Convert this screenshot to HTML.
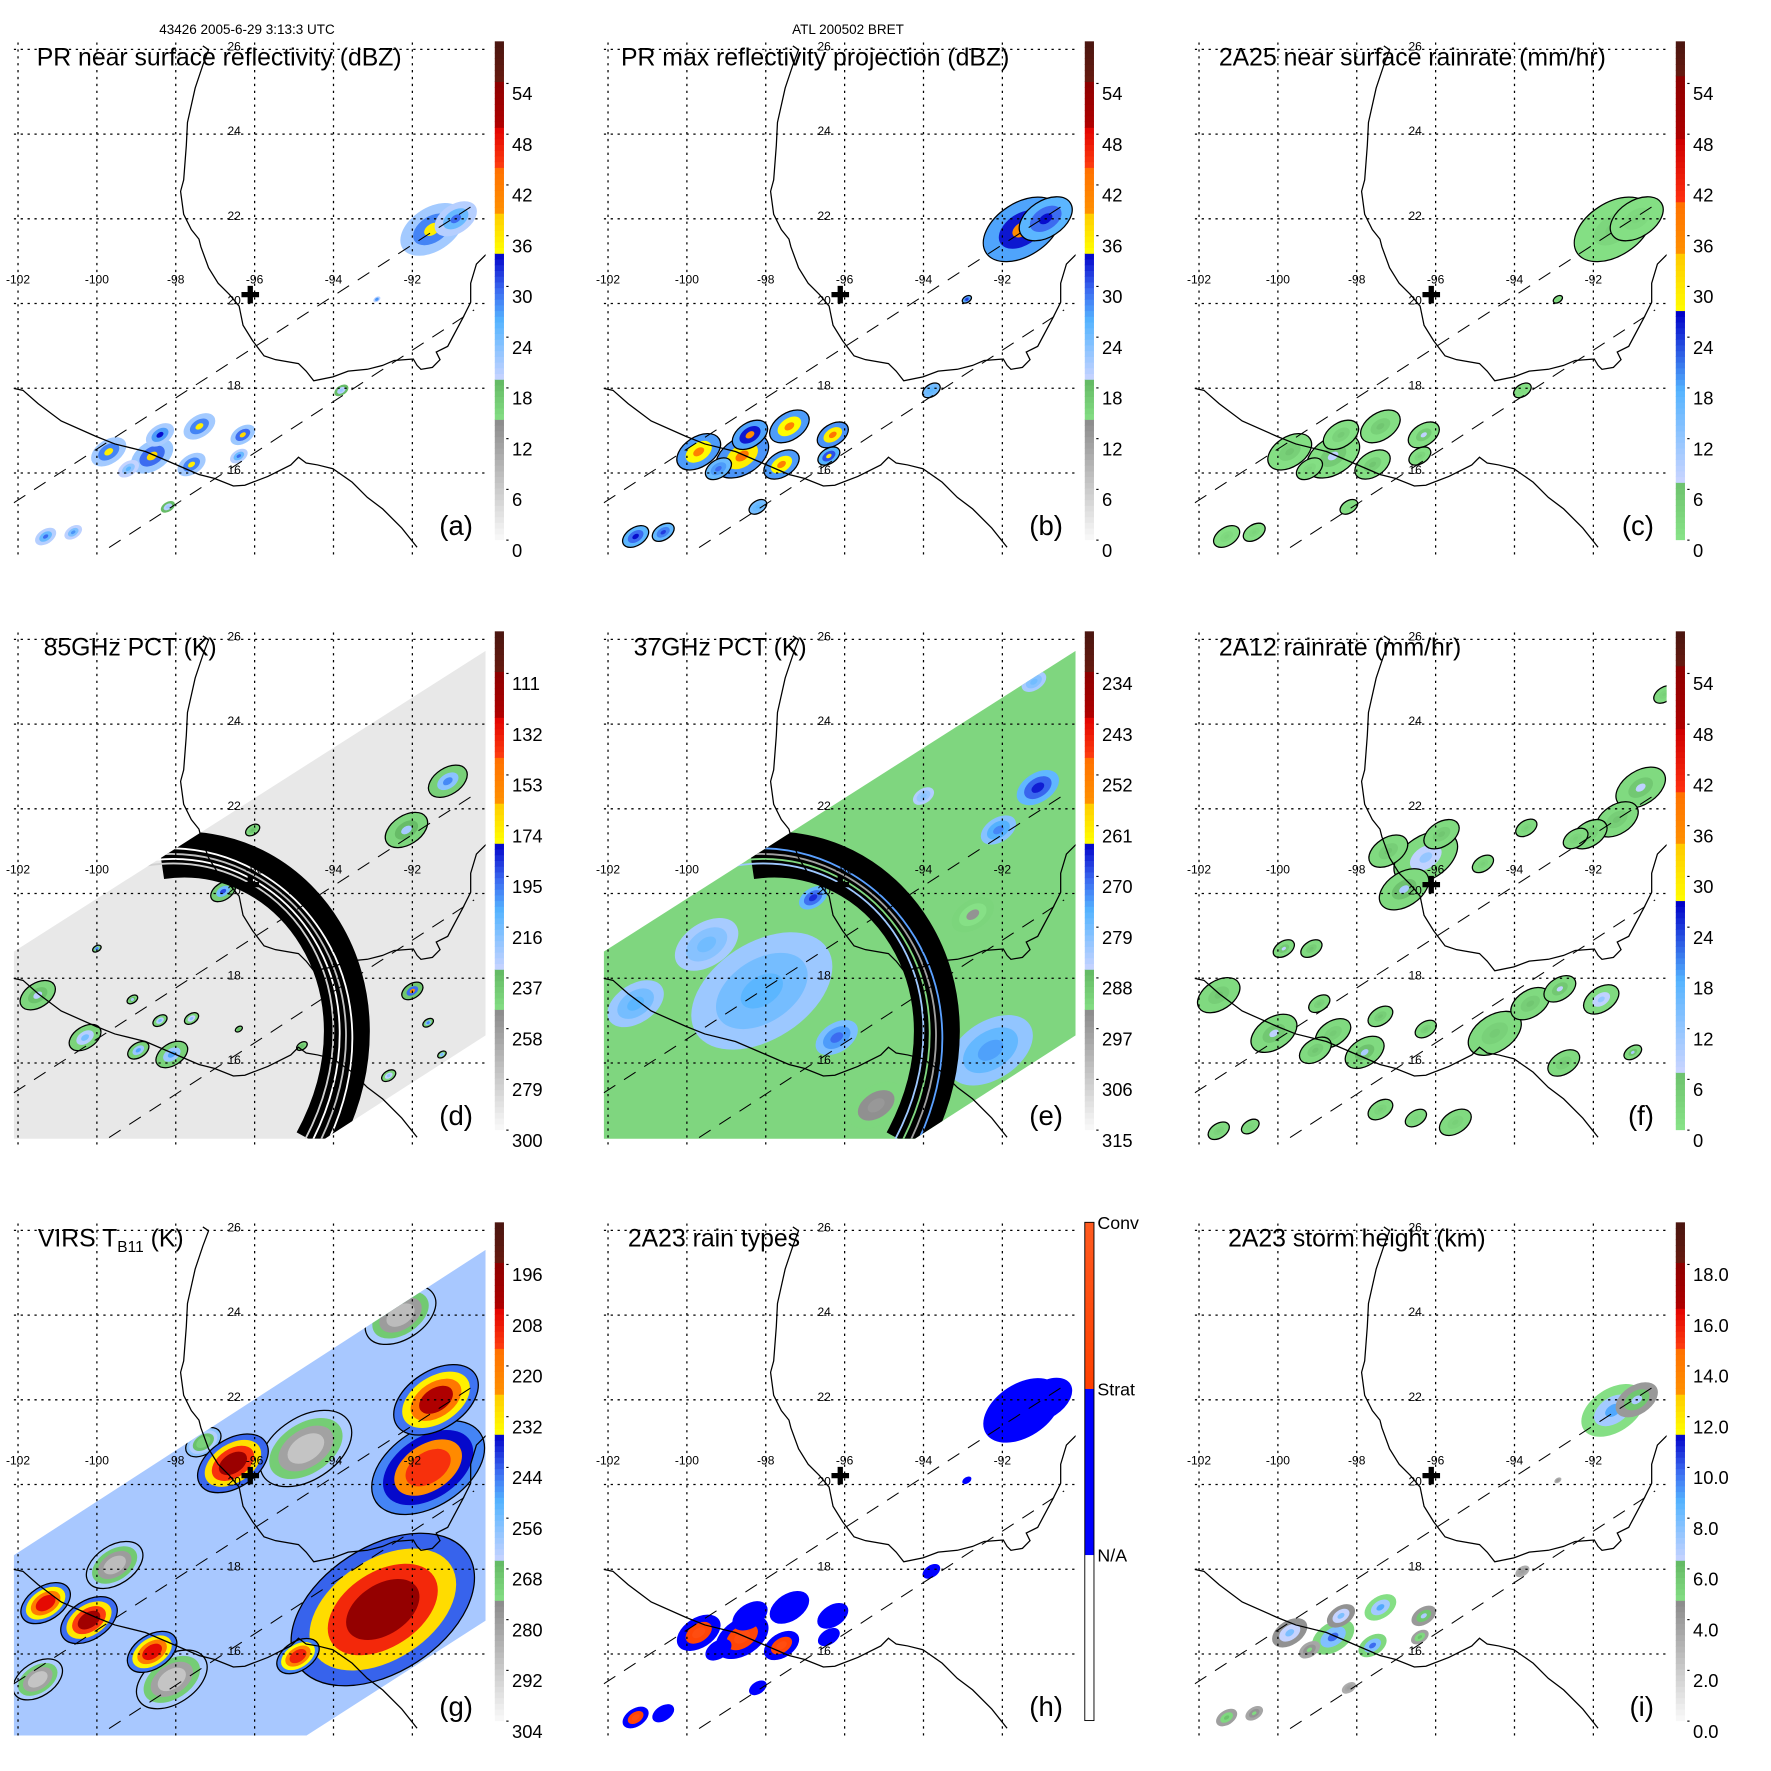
<!DOCTYPE html>
<html><head><meta charset="utf-8"><title>TRMM BRET 2005 panels</title>
<style>html,body{margin:0;padding:0;background:#fff}svg{display:block}</style></head>
<body>
<svg id="fig" xmlns="http://www.w3.org/2000/svg" width="1771" height="1771" viewBox="0 0 1771 1771" font-family="Liberation Sans, sans-serif"></svg>
<script>
// ---------- data (lon, lat, value, size in degrees) ----------
const aLon=[-91.5,-90.9,-99.7,-98.6,-98.4,-97.4,-97.6,-96.3,-96.4,-101.3,-100.6,-98.2,-93.8,-92.9,-99.2];
const aLat=[21.75,22.0,16.5,16.4,16.9,17.1,16.2,16.9,16.4,14.5,14.6,15.2,17.95,20.1,16.1];
const aVal=[36,30,36,38,34,36,36,38,30,30,28,22,22,28,26];
const aSize=[0.9,0.6,0.5,0.6,0.4,0.45,0.4,0.35,0.25,0.3,0.25,0.2,0.2,0.1,0.3];
const bVal=[40,34,42,44,40,42,42,44,36,34,32,26,26,32,30];
const bSize=[1.1,0.75,0.62,0.75,0.5,0.56,0.5,0.44,0.31,0.37,0.31,0.25,0.25,0.13,0.37];
const cVal=[4,3,6,8,5,6,6,8,4,3,3,2,2,3,3];
const hVal=[1.5,1.5,2.5,2.5,1.5,1.5,2.5,1.5,1.5,2.5,1.5,1.5,1.5,1.5,1.5];
const iVal=[9,7,8,10,8,9,10,7,6,6,5,4,4,4,5];
const dLon=[-91.1,-92.15,-96.05,-96.8,-92,-101.5,-100.3,-98.95,-98.1,-97.6,-98.4,-99.1,-100.0,-91.6,-91.25,-96.4,-94.8,-92.6];
const dLat=[22.65,21.5,21.5,20.05,17.7,17.6,16.6,16.3,16.2,17.05,17.0,17.5,18.7,16.95,16.2,16.8,16.4,15.7];
const dVal=[200,225,235,190,160,230,215,205,205,220,215,225,200,200,215,235,235,220];
const dSize=[0.55,0.6,0.2,0.35,0.3,0.5,0.45,0.3,0.45,0.2,0.2,0.15,0.12,0.15,0.12,0.1,0.15,0.2];
const eLon=[-98.1,-92.3,-101.3,-99.5,-95.2,-92.75,-91.1,-92.1,-96.8,-96.2,-94,-91.2];
const eLat=[17.7,16.3,17.4,18.8,15.0,19.5,22.5,21.5,19.9,16.6,22.3,25];
const eVal=[276,274,276,278,296,295,265,272,266,270,280,278];
const eSize=[2.0,1.2,0.8,0.9,0.8,0.6,0.6,0.5,0.4,0.6,0.3,0.35];
const fLon=[-90.8,-91.4,-92.1,-92.45,-90.2,-96.25,-96.8,-97.2,-95.85,-93.7,-94.8,-99.85,-99.15,-101.5,-100.1,-98.6,-99.05,-97.8,-97.4,-98.95,-96.25,-94.5,-93.6,-92.85,-91.8,-92.75,-91.0,-97.4,-96.5,-95.5,-101.5,-100.7];
const fLat=[22.5,21.75,21.4,21.3,24.7,20.85,20.1,21.0,21.4,21.55,20.7,18.7,18.7,17.6,16.7,16.7,16.3,16.25,17.1,17.4,16.8,16.7,17.4,17.75,17.5,16.0,16.25,14.9,14.7,14.6,14.4,14.5];
const fVal=[8,6,5,4,4,12,10,6,6,4,4,8,6,6,8,5,6,10,6,5,5,5,6,8,12,5,10,4,3,4,4,3];
const fSize=[0.7,0.6,0.5,0.35,0.3,0.9,0.7,0.55,0.5,0.3,0.3,0.3,0.3,0.6,0.65,0.5,0.45,0.55,0.35,0.3,0.3,0.75,0.55,0.45,0.5,0.45,0.25,0.35,0.3,0.45,0.3,0.25];
const gLon=[-94.7,-99.55,-98.1,-92.3,-101.5,-97.3,-92.75,-91.6,-91.4,-96.55,-101.3,-100.2,-98.6,-94.9];
const gLat=[20.85,18.1,15.4,24.0,15.4,21.0,17.05,20.4,22.0,20.5,17.2,16.8,16.05,15.95];
const gVal=[290,288,290,288,290,272,196,212,204,198,206,200,206,210];
const gSize=[1.3,0.8,1.0,1.0,0.7,0.5,2.6,1.6,1.2,1.0,0.7,0.8,0.7,0.6];
// colorbar tick labels
const ticksA=['0','6','12','18','24','30','36','42','48','54'];
const ticksD=['300','279','258','237','216','195','174','153','132','111'];
const ticksE=['315','306','297','288','279','270','261','252','243','234'];
const ticksG=['304','292','280','268','256','244','232','220','208','196'];
const ticksI=['0.0','2.0','4.0','6.0','8.0','10.0','12.0','14.0','16.0','18.0'];
const ticksH=['N/A','Strat','Conv'];
const lonTicks=[-102,-100,-98,-96,-94,-92];
const latTicks=[26,24,22,20,18,16];
// map geometry (local pixel outlines)
const gulfCoast=[530,120,545,130,530,170,510,230,490,320,487,380,480,470,472,500,480,560,500,600,520,625,525,645,545,700,570,740,600,770,625,800,635,850,660,890,690,930,720,940,780,950,800,970,820,995,870,985,910,970,960,965,1000,955,1030,942,1080,938,1090,955,1100,965,1130,960,1150,940,1140,920,1170,905,1210,830,1230,790,1230,740,1245,690,1270,665];
const pacCoast=[35,1015,60,1020,100,1055,160,1100,250,1140,300,1160,380,1180,450,1210,520,1240,560,1250,610,1270,640,1268,700,1245,760,1215,780,1195,800,1210,830,1215,870,1225,920,1260,960,1300,1000,1330,1050,1380,1090,1430];

const NS='http://www.w3.org/2000/svg';
const svg=document.getElementById('fig');
function el(tag,attrs,parent){const e=document.createElementNS(NS,tag);for(const k in attrs)e.setAttribute(k,attrs[k]);if(parent)parent.appendChild(e);return e;}
function proj(lon,lat){return [15.7+(lon+102)*34.35, 43+(26-lat)*36.9];}

const cmapStd=[[0,'#fafafa'],[0.237,'#8c8c8c'],[0.237,'#86e086'],[0.322,'#63b863'],[0.322,'#c8d4ff'],[0.44,'#55b4ff'],[0.5,'#3c6cf0'],[0.576,'#0000c8'],[0.576,'#ffff00'],[0.66,'#ffc800'],[0.66,'#ff9000'],[0.745,'#ff7000'],[0.745,'#ff4010'],[0.83,'#e00000'],[0.83,'#b00000'],[0.92,'#8c0000'],[0.92,'#661a10'],[1,'#4a1610']];
const cmapRain=[[0,'#88e488'],[0.12,'#6cc06c'],[0.12,'#c8d4ff'],[0.3,'#55b4ff'],[0.456,'#0000c8'],[0.456,'#ffff00'],[0.576,'#ffc800'],[0.576,'#ff9000'],[0.68,'#ff7000'],[0.68,'#ff3010'],[0.8,'#d00000'],[0.8,'#b00000'],[0.93,'#8c0000'],[0.93,'#661a10'],[1,'#4a1610']];
const cmapType=[[0,'#ffffff'],[0.333,'#ffffff'],[0.333,'#0000ff'],[0.667,'#0000ff'],[0.667,'#ff4000'],[1,'#ff5a20']];
function hex2(c){return [parseInt(c.slice(1,3),16),parseInt(c.slice(3,5),16),parseInt(c.slice(5,7),16)];}
function colorAt(st,t){t=Math.max(0,Math.min(0.9999,t));for(let i=0;i<st.length-1;i++){const a=st[i],b=st[i+1];if(t>=a[0]&&t<b[0]){const f=(t-a[0])/(b[0]-a[0]);const A=hex2(a[1]),B=hex2(b[1]);return 'rgb('+A.map((v,j)=>Math.round(v+(B[j]-v)*f)).join(',')+')';}}return st[st.length-1][1];}

const colX=[0,590,1181], rowY=[0,590,1181];
const S=1.148;
const swathDE='12,315 423,53 423,388 283,478 12,478';
const swathG='12,326 423,60 423,383 267,483 12,483';

function drawBlobs(g,name,lons,lats,vals,sizes,o){
  for(let i=0;i<lons.length;i++){
    const p=proj(lons[i],lats[i]);
    const bg=el('g',{transform:`translate(${p[0]},${p[1]}) rotate(-33)`},g);
    
    
    const rx=sizes[i]*34,ry=sizes[i]*21;
    o.fr.forEach((f,k)=>{
      const v=o.base+(vals[i]-o.base)*f;
      const t=(v-o.lo)/(o.hi-o.lo);
      const at={cx:0,cy:0,rx:Math.max(1.5,rx*o.sc[k]),ry:Math.max(1.2,ry*o.sc[k]),fill:colorAt(o.cmap,t)};
      if(k===0&&o.outline){at.stroke='#000';at['stroke-width']=1.1;}
      el('ellipse',at,bg);
    });
  }
}

function panel(key,col,row,cfg){
  const g=el('g',{transform:`translate(${colX[col]},${rowY[row]}) scale(${S})`},svg);
  
  
  const defs=el('defs',{},g);
  const cm=el('clipPath',{id:'map-'+key},defs);el('rect',{x:12,y:37,width:411,height:446},cm);
  const map=el('g',{'clip-path':`url(#map-${key})`},g);
  
  
  let dataLayer=map;
  if(cfg.swath){
    const cs=el('clipPath',{id:'sw-'+key},defs);el('polygon',{points:cfg.swath},cs);
    const sw=el('polygon',{points:cfg.swath,fill:cfg.swathFill},map);
    
    
    dataLayer=el('g',{'clip-path':`url(#sw-${key})`},map);
  }
  cfg.layers.forEach(L=>drawBlobs(dataLayer,key,L.lon,L.lat,L.val,L.size,L.opt));
  if(cfg.arc){
    const arc=el('g',{},dataLayer);
    
    
    el('path',{d:'M140,232 C255,215 350,345 276,482',fill:'none',stroke:'#000','stroke-width':40},arc);
    cfg.arc.forEach((c,k)=>el('path',{d:`M${128+k*8},${240-k*5} C${245+k*5},${222+k*2} ${338+k*4},${345} ${264+k*7},482`,fill:'none',stroke:c,'stroke-width':1.6},arc));
  }
  const grid=el('g',{stroke:'#000','stroke-width':1.1,'stroke-dasharray':'2,4'},map);
  
  
  lonTicks.forEach(l=>{const x=proj(l,20)[0];el('line',{x1:x,y1:37,x2:x,y2:483},grid);});
  latTicks.forEach(l=>{const y=proj(-96,l)[1];el('line',{x1:12,y1:y,x2:423,y2:y},grid);});
  const sd=el('g',{stroke:'#000','stroke-width':0.9,'stroke-dasharray':'12,9',fill:'none'},map);
  
  
  el('line',{x1:12,y1:438,x2:415,y2:177},sd);el('line',{x1:95,y1:477,x2:413,y2:270},sd);
  const cp=(arr)=>{let s='';for(let i=0;i<arr.length;i+=2)s+=(i?'L':'M')+(arr[i]/3).toFixed(1)+','+(arr[i+1]/3).toFixed(1);return s;};
  const coast=el('path',{d:cp(gulfCoast)+cp(pacCoast),fill:'none',stroke:'#000','stroke-width':1.1},map);
  
  
  const mk=el('text',{x:218,y:264,'font-size':20,'font-weight':'bold','text-anchor':'middle'},g);mk.textContent='✚';
  
  
  lonTicks.forEach(l=>{const t=el('text',{x:proj(l,20)[0],y:247,'font-size':10.5,'text-anchor':'middle'},g);t.textContent=String(l);
    
    });
  latTicks.forEach(l=>{const t=el('text',{x:204,y:proj(-96,l)[1]+1,'font-size':10.5,'text-anchor':'middle'},g);t.textContent=String(l);
    
    });
  const tt=el('text',{x:cfg.tx,y:57,'font-size':21.6},g);
  
  
  if(cfg.titleSub){tt.textContent=cfg.title;const ts=el('tspan',{'font-size':13.5,dy:5},tt);ts.textContent=cfg.titleSub;const t3=el('tspan',{dy:-5},tt);t3.textContent=' (K)';}
  else tt.textContent=cfg.title;
  const lt=el('text',{x:412,y:466,'font-size':24,'text-anchor':'end'},g);lt.textContent='('+key+')';
  
  
  const cb=el('g',{},g);
  
  
  const N=87;for(let i=0;i<N;i++){const t=(i+0.5)/N;el('rect',{x:431,y:470-(i+1)*434/N,width:8,height:434/N+0.5,fill:colorAt(cfg.cbmap,t)},cb);}
  if(cfg.cbBorder)el('rect',{x:431,y:36,width:8,height:434,fill:'none',stroke:'#000','stroke-width':0.8},cb);
  if(cfg.ticks===ticksH){
    ticksH.forEach((s,k)=>{const y=470-(k+1)*434/3;const t=el('text',{x:442,y:y+6,'font-size':15.5},cb);t.textContent=s;
      
      });
  } else {
    cfg.ticks.forEach((s,k)=>{const yc=479.5-k*44.2;el('line',{x1:441,y1:yc-9,x2:443,y2:yc-9,stroke:'#000'},cb);
      const t=el('text',{x:446,y:yc+5.5,'font-size':16},cb);t.textContent=s;
      
      });
  }
  return g;
}

const optA={base:18,lo:0,hi:60,cmap:cmapStd,fr:[0.2,0.6,1],sc:[1,0.6,0.25]};
panel('a',0,0,{title:'PR near surface reflectivity (dBZ)',tx:32,cbmap:cmapStd,ticks:ticksA,
  layers:[{lon:aLon,lat:aLat,val:aVal,size:aSize,opt:optA}]});
panel('b',1,0,{title:'PR max reflectivity projection (dBZ)',tx:27,cbmap:cmapStd,ticks:ticksA,
  layers:[{lon:aLon,lat:aLat,val:bVal,size:bSize,opt:Object.assign({},optA,{base:24,outline:true})}]});
panel('c',2,0,{title:'2A25 near surface rainrate (mm/hr)',tx:33,cbmap:cmapRain,ticks:ticksA,
  layers:[{lon:aLon,lat:aLat,val:cVal,size:bSize,opt:{base:1,lo:0,hi:60,cmap:cmapRain,fr:[0,0.6,1],sc:[1,0.5,0.2],outline:true}}]});
panel('d',0,1,{title:'85GHz PCT (K)',tx:38,cbmap:cmapStd,ticks:ticksD,swath:swathDE,swathFill:'#e8e8e8',
  arc:['#d0d0d0','#ffffff','#c0c0c0','#ffffff'],
  layers:[{lon:dLon,lat:dLat,val:dVal,size:dSize,opt:{base:248,lo:300,hi:90,cmap:cmapStd,fr:[0.1,0.6,1],sc:[1,0.55,0.25],outline:true}}]});
panel('e',1,1,{title:'37GHz PCT (K)',tx:38,cbmap:cmapStd,ticks:ticksE,swath:swathDE,swathFill:'#7fd67f',
  arc:['#9ec8ff','#7fd67f','#a0a0a0','#5aa0ff'],
  layers:[{lon:eLon,lat:eLat,val:eVal,size:eSize,opt:{base:288,lo:315,hi:225,cmap:cmapStd,fr:[0.5,0.8,1],sc:[1,0.65,0.3]}}]});
panel('f',2,1,{title:'2A12 rainrate (mm/hr)',tx:33,cbmap:cmapRain,ticks:ticksA,
  layers:[{lon:fLon,lat:fLat,val:fVal,size:fSize,opt:{base:2,lo:0,hi:60,cmap:cmapRain,fr:[0,0.6,1],sc:[1,0.5,0.2],outline:true}}]});
panel('g',0,2,{title:'VIRS T',titleSub:'B11',tx:33,cbmap:cmapStd,ticks:ticksG,swath:swathG,swathFill:'#a8c8ff',
  layers:[{lon:gLon,lat:gLat,val:gVal,size:gSize,opt:{base:255,lo:304,hi:184,cmap:cmapStd,fr:[0.2,0.45,0.75,1],sc:[1,0.8,0.6,0.4],outline:true}}]});
panel('h',1,2,{title:'2A23 rain types',tx:33,cbmap:cmapType,ticks:ticksH,cbBorder:true,
  layers:[{lon:aLon,lat:aLat,val:hVal,size:bSize,opt:{base:1.5,lo:0,hi:3,cmap:cmapType,fr:[0.35,0.7,1],sc:[1,0.6,0.3]}}]});
panel('i',2,2,{title:'2A23 storm height (km)',tx:41,cbmap:cmapStd,ticks:ticksI,
  layers:[{lon:aLon,lat:aLat,val:iVal,size:aSize,opt:{base:3,lo:0,hi:20,cmap:cmapStd,fr:[0.3,0.7,1],sc:[1,0.6,0.25]}}]});

const h1=el('text',{x:247,y:34,'font-size':13.5,'text-anchor':'middle'},svg);h1.textContent='43426 2005-6-29 3:13:3 UTC';


const h2=el('text',{x:848,y:34,'font-size':13.5,'text-anchor':'middle'},svg);h2.textContent='ATL 200502 BRET';


</script>
</body></html>
